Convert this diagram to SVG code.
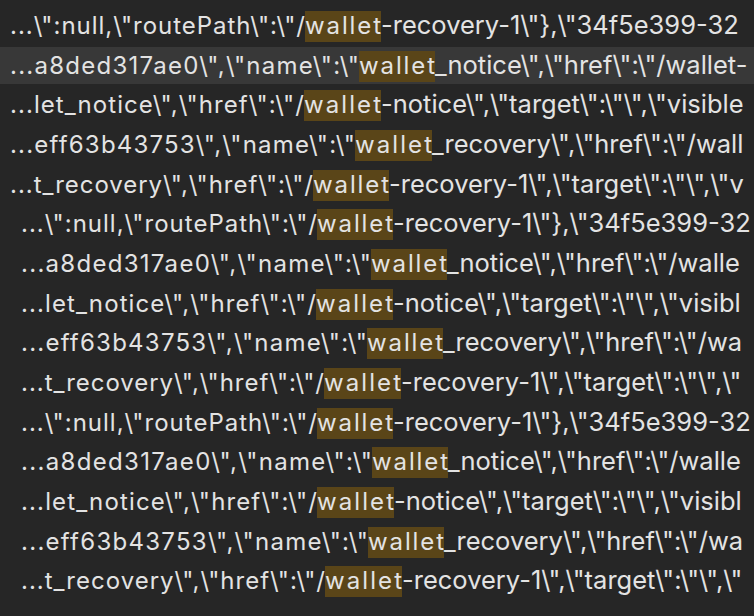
<svg xmlns="http://www.w3.org/2000/svg" width="754" height="616" viewBox="0 0 754 616">
<style>
text{font-family:Inter,"Liberation Sans",sans-serif;font-size:24px;fill:#e3e3e3}
.s{font-size:25.5px}
.h{fill:#5a4518}
</style>
<rect width="754" height="616" fill="#262626"/>
<rect x="0" y="47" width="754" height="37" fill="#383838"/>
<g id="boxes">
<rect class="h" x="305" y="11" width="76" height="31"/>
<rect class="h" x="359" y="51" width="76" height="31"/>
<rect class="h" x="304" y="90" width="77" height="31"/>
<rect class="h" x="355" y="130" width="77" height="31"/>
<rect class="h" x="313" y="170" width="76" height="31"/>
<rect class="h" x="317" y="209" width="76" height="31"/>
<rect class="h" x="371" y="249" width="76" height="31"/>
<rect class="h" x="316" y="289" width="77" height="31"/>
<rect class="h" x="367" y="328" width="76" height="31"/>
<rect class="h" x="324" y="368" width="77" height="31"/>
<rect class="h" x="317" y="408" width="76" height="31"/>
<rect class="h" x="372" y="447" width="76" height="31"/>
<rect class="h" x="317" y="487" width="77" height="31"/>
<rect class="h" x="368" y="527" width="76" height="31"/>
<rect class="h" x="325" y="566" width="77" height="31"/>
</g>
<g id="lines">
<text y="34"><tspan x="10" textLength="295">...\":null,\"routePath\":\"/</tspan><tspan x="305" textLength="76">wallet</tspan><tspan class="s" x="381">-recovery-1\"},\"34f5e399-32</tspan></text>
<text y="74"><tspan x="10" textLength="349">...a8ded317ae0\",\"name\":\"</tspan><tspan x="359" textLength="76">wallet</tspan><tspan class="s" x="435">_notice\",\"href\":\"/wallet-</tspan></text>
<text y="113"><tspan x="10" textLength="294">...let_notice\",\"href\":\"/</tspan><tspan x="304" textLength="77">wallet</tspan><tspan class="s" x="381">-notice\",\"target\":\"\",\"visible</tspan></text>
<text y="153"><tspan x="10" textLength="345">...eff63b43753\",\"name\":\"</tspan><tspan x="355" textLength="77">wallet</tspan><tspan class="s" x="432">_recovery\",\"href\":\"/wall</tspan></text>
<text y="193"><tspan x="10" textLength="303">...t_recovery\",\"href\":\"/</tspan><tspan x="313" textLength="76">wallet</tspan><tspan class="s" x="389">-recovery-1\",\"target\":\"\",\"v</tspan></text>

<text y="232"><tspan x="21" textLength="296">...\":null,\"routePath\":\"/</tspan><tspan x="317" textLength="76">wallet</tspan><tspan class="s" x="393">-recovery-1\"},\"34f5e399-32</tspan></text>
<text y="272"><tspan x="21" textLength="350">...a8ded317ae0\",\"name\":\"</tspan><tspan x="371" textLength="76">wallet</tspan><tspan class="s" x="447">_notice\",\"href\":\"/walle</tspan></text>
<text y="312"><tspan x="21" textLength="295">...let_notice\",\"href\":\"/</tspan><tspan x="316" textLength="77">wallet</tspan><tspan class="s" x="393">-notice\",\"target\":\"\",\"visibl</tspan></text>
<text y="351"><tspan x="21" textLength="346">...eff63b43753\",\"name\":\"</tspan><tspan x="367" textLength="76">wallet</tspan><tspan class="s" x="443">_recovery\",\"href\":\"/wa</tspan></text>
<text y="391"><tspan x="21" textLength="303">...t_recovery\",\"href\":\"/</tspan><tspan x="324" textLength="77">wallet</tspan><tspan class="s" x="401">-recovery-1\",\"target\":\"\",\"</tspan></text>

<text y="431"><tspan x="21" textLength="296">...\":null,\"routePath\":\"/</tspan><tspan x="317" textLength="76">wallet</tspan><tspan class="s" x="393">-recovery-1\"},\"34f5e399-32</tspan></text>
<text y="470"><tspan x="21" textLength="351">...a8ded317ae0\",\"name\":\"</tspan><tspan x="372" textLength="76">wallet</tspan><tspan class="s" x="448">_notice\",\"href\":\"/walle</tspan></text>
<text y="510"><tspan x="21" textLength="296">...let_notice\",\"href\":\"/</tspan><tspan x="317" textLength="77">wallet</tspan><tspan class="s" x="394">-notice\",\"target\":\"\",\"visibl</tspan></text>
<text y="550"><tspan x="21" textLength="347">...eff63b43753\",\"name\":\"</tspan><tspan x="368" textLength="76">wallet</tspan><tspan class="s" x="444">_recovery\",\"href\":\"/wa</tspan></text>
<text y="589"><tspan x="21" textLength="304">...t_recovery\",\"href\":\"/</tspan><tspan x="325" textLength="77">wallet</tspan><tspan class="s" x="402">-recovery-1\",\"target\":\"\",\"</tspan></text>
</g>
</svg>
